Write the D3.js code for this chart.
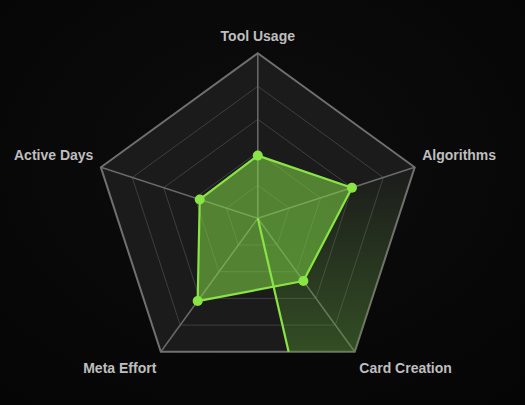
<!DOCTYPE html>
<html>
<head>
<meta charset="utf-8">
<script src="https://cdn.jsdelivr.net/npm/d3@7"></script>
<style>
  html, body { margin: 0; padding: 0; background: #070707; }
  svg { display: block; }
</style>
</head>
<body>
<svg id="chart" width="525" height="405"></svg>
<script>
// ---- data ----
const axes = ["Tool Usage", "Algorithms", "Card Creation", "Meta Effort", "Active Days"];
const values = [38, 60, 47, 62, 37];
const maxValue = 100;
const levels = [20, 40, 60, 80, 100];
// highlighted sweep: starts at an axis and ends at an angle (degrees, clockwise from top)
const sweepStartAxis = "Algorithms";
const sweepEndDeg = 167;

// ---- layout ----
const W = 525, H = 405;
const cx = 257.8, cy = 218.3, R = 165;
const svg = d3.select("#chart");

const defs = svg.append("defs");
const bg = defs.append("radialGradient").attr("id", "bg").attr("cx", "50%").attr("cy", "40%").attr("r", "75%");
bg.append("stop").attr("offset", "0%").attr("stop-color", "#0d0d0d");
bg.append("stop").attr("offset", "100%").attr("stop-color", "#050505");
svg.append("rect").attr("width", W).attr("height", H).attr("fill", "url(#bg)");

const rScale = d3.scaleLinear().domain([0, maxValue]).range([0, R]);
const angle = d3.scalePoint().domain(axes).range([0, 2 * Math.PI * (axes.length - 1) / axes.length]);
const pt = (a, r) => [cx + r * Math.sin(a), cy - r * Math.cos(a)];

const g = svg.append("g");

// pentagon fill
const outer = axes.map(a => pt(angle(a), rScale(maxValue)));
g.append("polygon").attr("points", outer.map(p => p.join(",")).join(" "))
  .attr("fill", "#1b1b1b");

// inner rings
levels.slice(0, -1).forEach(l => {
  g.append("polygon")
    .attr("points", axes.map(a => pt(angle(a), rScale(l)).join(",")).join(" "))
    .attr("fill", "none").attr("stroke", "#3e3e3e").attr("stroke-width", 1);
});

// axes
axes.forEach(a => {
  const p = pt(angle(a), rScale(maxValue));
  g.append("line").attr("x1", cx).attr("y1", cy).attr("x2", p[0]).attr("y2", p[1])
    .attr("stroke", "#6a6a6a").attr("stroke-width", 1.5);
});

// outer ring
g.append("polygon").attr("points", outer.map(p => p.join(",")).join(" "))
  .attr("fill", "none").attr("stroke", "#707070").attr("stroke-width", 2);

// data polygon
const dataPts = axes.map((a, i) => pt(angle(a), rScale(values[i])));
g.append("polygon").attr("points", dataPts.map(p => p.join(",")).join(" "))
  .attr("fill", "rgba(128,215,70,0.55)").attr("stroke", "none");

// sweep wedge: ray at sweepEndDeg intersected with outer pentagon
function rayHit(theta) {
  const d = [Math.sin(theta), -Math.cos(theta)];
  let best = null;
  for (let i = 0; i < outer.length; i++) {
    const A = outer[i], B = outer[(i + 1) % outer.length];
    const e = [B[0] - A[0], B[1] - A[1]];
    const den = d[0] * e[1] - d[1] * e[0];
    if (Math.abs(den) < 1e-9) continue;
    const w = [A[0] - cx, A[1] - cy];
    const t = (w[0] * e[1] - w[1] * e[0]) / den;
    const u = (w[0] * d[1] - w[1] * d[0]) / den;
    if (t > 0 && u >= 0 && u <= 1) { if (!best || t < best.t) best = { t, i }; }
  }
  return { p: [cx + best.t * d[0], cy + best.t * d[1]], edge: best.i };
}
const endTheta = sweepEndDeg * Math.PI / 180;
const hit = rayHit(endTheta);
const startIdx = axes.indexOf(sweepStartAxis);
const wedge = [[cx, cy]];
for (let i = startIdx; i <= hit.edge; i++) wedge.push(outer[i]);
wedge.push(hit.p);

const wg = defs.append("linearGradient").attr("id", "wedge")
  .attr("gradientUnits", "userSpaceOnUse")
  .attr("x1", 0).attr("y1", outer[startIdx][1]).attr("x2", 0).attr("y2", hit.p[1]);
wg.append("stop").attr("offset", "0%").attr("stop-color", "#5aa032").attr("stop-opacity", 0.0);
wg.append("stop").attr("offset", "100%").attr("stop-color", "#5aa032").attr("stop-opacity", 0.38);
g.append("polygon").attr("points", wedge.map(p => p.join(",")).join(" "))
  .attr("fill", "url(#wedge)");

const lineColor = "#8ae445";
g.append("polygon").attr("points", dataPts.map(p => p.join(",")).join(" "))
  .attr("fill", "none").attr("stroke", lineColor).attr("stroke-width", 2.2).attr("stroke-linejoin", "round");
g.append("line").attr("x1", cx).attr("y1", cy).attr("x2", hit.p[0]).attr("y2", hit.p[1])
  .attr("stroke", lineColor).attr("stroke-width", 2.2);

g.selectAll("circle.dot").data(dataPts).join("circle").attr("class", "dot")
  .attr("cx", d => d[0]).attr("cy", d => d[1]).attr("r", 5).attr("fill", lineColor);

// labels
axes.forEach(a => {
  const th = angle(a);
  const p = pt(th, rScale(maxValue));
  const s = Math.sin(th), c = Math.cos(th);
  let anchor = "middle", dx = 0, dy = 0;
  if (Math.abs(s) < 0.01) { dy = -17; }
  else if (c > 0) { anchor = s > 0 ? "start" : "end"; dx = s > 0 ? 7.5 : -7.5; dy = -12; }
  else { anchor = s > 0 ? "start" : "end"; dx = s > 0 ? 4.5 : -4.5; dy = 16; }
  g.append("text").attr("x", p[0] + dx).attr("y", p[1] + dy)
    .attr("text-anchor", anchor).attr("dominant-baseline", "central")
    .attr("font-family", "'Liberation Sans', Arial, sans-serif")
    .attr("font-weight", "bold").attr("font-size", 14).attr("fill", "#bfbfbf")
    .text(a);
});
</script>
</body>
</html>
